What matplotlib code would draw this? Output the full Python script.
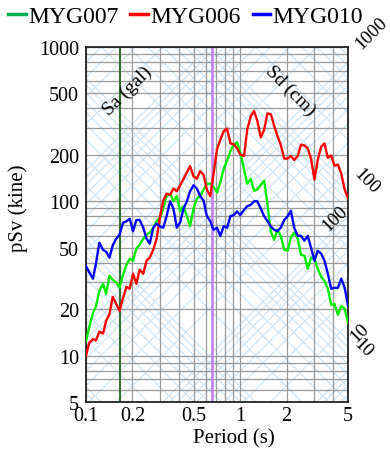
import numpy as np
import matplotlib
matplotlib.use('Agg')
import matplotlib.pyplot as plt
from matplotlib import ticker
from matplotlib.lines import Line2D

# values
periods = [0.100, 0.105, 0.111, 0.116, 0.122, 0.129, 0.135, 0.142, 0.149, 0.157,
           0.165, 0.174, 0.183, 0.192, 0.202, 0.212, 0.223, 0.235, 0.247, 0.259,
           0.273, 0.287, 0.302, 0.317, 0.333, 0.351, 0.369, 0.388, 0.408, 0.429,
           0.451, 0.473, 0.498, 0.523, 0.550, 0.579, 0.608, 0.640, 0.672, 0.707,
           0.743, 0.782, 0.822, 0.864, 0.908, 0.955, 1.00, 1.06, 1.11, 1.17,
           1.23, 1.29, 1.36, 1.43, 1.50, 1.58, 1.66, 1.74, 1.83, 1.93,
           2.03, 2.13, 2.24, 2.36, 2.48, 2.61, 2.74, 2.88, 3.03, 3.18,
           3.35, 3.52, 3.70, 3.89, 4.09, 4.30, 4.52, 4.76, 5.00]

sv_myg007 = [12.4, 15.3, 18.9, 20.8, 26.3, 29.2, 25.1, 33.0, 31.0, 29.8,
             27.6, 33.4, 38.8, 42.4, 41.2, 49.3, 52.3, 57.2, 60.7, 62.6,
             67.4, 74.2, 78.3, 89.6, 108, 112, 100, 108, 86.0, 93.0,
             80.0, 69.0, 89.6, 104, 108, 119, 130, 130, 124, 114,
             133, 163, 183, 212, 233, 241, 208, 160, 130, 140,
             117, 119, 128, 136, 96.5, 63.5, 56.3, 65.3, 59.7, 48.5,
             47.8, 58.2, 62.6, 57.2, 45.0, 44.4, 36.5, 43.1, 42.4, 36.5,
             32.4, 30.4, 27.1, 21.3, 21.6, 18.4, 20.9, 20.1, 16.3]

sv_myg006 = [10.0, 12.1, 12.8, 12.5, 14.3, 13.9, 16.8, 18.6, 24.0, 21.6,
             19.5, 23.7, 27.9, 27.1, 33.9, 29.2, 36.0, 33.9, 41.2, 43.1,
             48.5, 57.2, 79.5, 101, 112, 110, 121, 116, 127, 140,
             154, 169, 145, 140, 157, 148, 119, 108, 151, 217,
             251, 285, 296, 237, 234, 220, 201, 197, 291, 356,
             385, 333, 259, 291, 371, 366, 309, 267, 233, 189,
             189, 197, 185, 197, 233, 230, 220, 189, 138, 185,
             226, 237, 191, 198, 170, 173, 151, 119, 104]

sv_myg010 = [38.0, 34.6, 31.5, 39.4, 53.9, 48.5, 47.1, 43.1, 51.8, 57.2,
             60.7, 72.7, 74.2, 77.1, 64.0, 75.6, 75.6, 67.4, 57.2, 53.1,
             67.4, 71.6, 68.7, 67.4, 80.0, 100, 89.6, 67.4, 73.0, 89.6,
             100, 116, 127, 121, 108, 101, 80.0, 74.2, 65.3, 67.4,
             59.7, 69.0, 67.4, 80.0, 81.4, 86.0, 81.4, 88.2, 92.9, 94.9,
             100, 100, 89.6, 80.0, 74.6, 68.7, 65.3, 64.0, 67.4, 75.6,
             80.0, 86.8, 67.4, 59.7, 59.7, 55.5, 59.7, 50.0, 41.2, 47.8,
             45.7, 41.2, 33.9, 27.1, 27.5, 27.5, 31.5, 27.5, 21.0]

names = ['MYG007', 'MYG006', 'MYG010']
x_ticks = [0.1, 0.2, 0.5, 1, 2, 5]
y_ticks = [5, 10, 20, 50, 100, 200, 500, 1000]
marker_periods = [0.167, 0.655]   # the two vertical lines

plt.rcParams['font.family'] = ['Liberation Serif', 'DejaVu Serif']

fig = plt.figure(figsize=(3.9, 4.52), dpi=100)
ax = fig.add_axes([86 / 390, 49 / 452, 262 / 390, 355 / 452])
ax.set_xscale('log')
ax.set_yscale('log')

# tripartite background: constant Sa (gal) and constant Sd (cm)
tt = np.array([0.01, 50.0])
for n in range(-2, 5):
    for k in range(1, 10):
        lev = k * 10.0 ** n
        ax.plot(tt, lev * tt / (2 * np.pi), color='#cfe6f7', lw=0.9, zorder=0.3)
        ax.plot(tt, 2 * np.pi * lev / tt, color='#cfe6f7', lw=0.9, zorder=0.3)

ax.plot(periods, sv_myg007, color='#00ee00', lw=1.7, zorder=3)
ax.plot(periods, sv_myg006, color='#ff0000', lw=1.7, zorder=3)
ax.plot(periods, sv_myg010, color='#0000ff', lw=1.7, zorder=3)

ax.axvline(marker_periods[0], color='#2f6f2f', lw=1.5, zorder=2)
ax.axvline(marker_periods[1], color='#c27cf0', lw=1.8, zorder=2)

ax.set_xlim(0.1, 5)
ax.set_ylim(5, 1000)

fmt = ticker.FuncFormatter(lambda v, p: f'{v:g}')
ax.xaxis.set_major_locator(ticker.FixedLocator(x_ticks))
ax.yaxis.set_major_locator(ticker.FixedLocator(y_ticks))
ax.xaxis.set_minor_locator(ticker.LogLocator(base=10, subs=np.arange(1, 10), numticks=20))
ax.yaxis.set_minor_locator(ticker.LogLocator(base=10, subs=np.arange(1, 10), numticks=20))
ax.xaxis.set_major_formatter(fmt)
ax.yaxis.set_major_formatter(fmt)
ax.xaxis.set_minor_formatter(ticker.NullFormatter())
ax.yaxis.set_minor_formatter(ticker.NullFormatter())
ax.tick_params(which='both', length=0, labelsize=14.5)
ax.tick_params(axis='x', pad=3)
ax.tick_params(axis='y', pad=5)
ax.grid(which='both', color='#9a9a9a', lw=0.9)
ax.set_axisbelow(True)
for s in ax.spines.values():
    s.set_linewidth(1.3)
    s.set_color('#222222')

ax.set_xlabel('Period (s)', fontsize=15)
ax.xaxis.set_label_coords(0.563, -0.074)
ax.set_ylabel('pSv (kine)', fontsize=15)
ax.yaxis.set_label_coords(-0.22, 0.549)

# axis names and scale labels of the diagonal grids
ax.text(0.160, 0.879, 'Sa (gal)', transform=ax.transAxes, rotation=45, fontsize=14,
        ha='center', va='center', rotation_mode='anchor')
ax.text(0.779, 0.879, 'Sd (cm)', transform=ax.transAxes, rotation=-45, fontsize=14,
        ha='center', va='center', rotation_mode='anchor')
for txt, fx, fy, rot in [('1000', 1.088, 1.040, 45), ('100', 1.069, 0.622, -45),
                         ('100', 0.950, 0.518, 45), ('10', 1.046, 0.197, 45),
                         ('10', 1.057, 0.155, -45)]:
    ax.text(fx, fy, txt, transform=ax.transAxes, rotation=rot, fontsize=13.5,
            ha='center', va='center', rotation_mode='anchor', clip_on=False)

handles = [Line2D([], [], color=c, lw=2.5) for c in ['#00b050', '#ff0000', '#0000ff']]
fig.legend(handles, names, loc='center left', bbox_to_anchor=(8 / 390, 1 - 17 / 452),
           ncol=3, frameon=False, fontsize=17, handlelength=0.75, handletextpad=0.1,
           columnspacing=0.5, borderaxespad=0, borderpad=0)

fig.savefig('out.png', dpi=100)
